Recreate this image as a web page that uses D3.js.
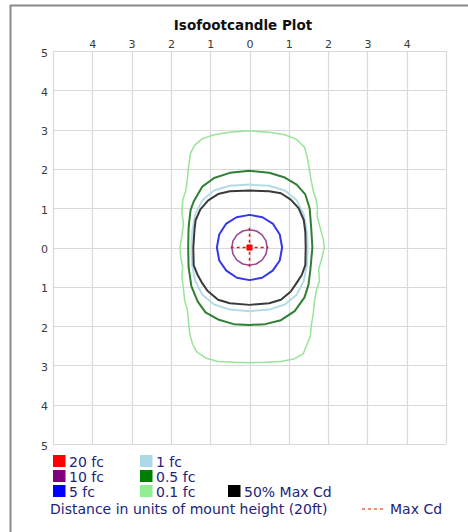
<!DOCTYPE html>
<html><head><meta charset="utf-8">
<script src="https://cdn.jsdelivr.net/npm/d3@7"></script>
<style>
html,body{margin:0;padding:0;background:#fff;}
svg{display:block;}
</style></head>
<body>
<svg id="chart" width="468" height="532"></svg>
<script>
// ---------- data ----------
const xTicks = [-4,-3,-2,-1,0,1,2,3,4];
const xTickLabels = ["4","3","2","1","0","1","2","3","4"];
const yTicks = [5,4,3,2,1,0,-1,-2,-3,-4,-5];
const yTickLabels = ["5","4","3","2","1","0","1","2","3","4","5"];

const series = ["0.1 fc","0.5 fc","1 fc","50% Max Cd","5 fc","10 fc","20 fc"];

const fc01 = [[0,2.97],[0.5,2.93],[0.9,2.87],[1.2,2.75],[1.4,2.55],[1.47,2.3],[1.52,2.0],[1.56,1.75],[1.62,1.45],[1.7,1.2],[1.73,1.0],[1.72,0.8],[1.8,0.5],[1.88,0.2],[1.9,0],[1.85,-0.25],[1.76,-0.55],[1.78,-0.85],[1.7,-1.1],[1.65,-1.4],[1.62,-1.7],[1.57,-2.0],[1.55,-2.25],[1.45,-2.5],[1.37,-2.7],[1.15,-2.83],[0.8,-2.9],[0.4,-2.92],[0,-2.93],[-0.4,-2.92],[-0.8,-2.9],[-1.1,-2.82],[-1.35,-2.65],[-1.45,-2.45],[-1.52,-2.2],[-1.55,-1.9],[-1.58,-1.6],[-1.65,-1.35],[-1.68,-1.05],[-1.72,-0.75],[-1.7,-0.5],[-1.75,-0.25],[-1.77,0],[-1.72,0.3],[-1.68,0.6],[-1.72,0.9],[-1.7,1.2],[-1.62,1.45],[-1.58,1.75],[-1.55,2.05],[-1.5,2.4],[-1.4,2.6],[-1.2,2.77],[-0.9,2.87],[-0.5,2.93]];
const fc05 = [[0,1.95],[0.5,1.9],[0.9,1.78],[1.2,1.6],[1.42,1.35],[1.53,1.0],[1.57,0.5],[1.6,0],[1.55,-0.55],[1.5,-0.95],[1.4,-1.27],[1.15,-1.62],[0.8,-1.85],[0.4,-1.95],[0,-1.97],[-0.4,-1.95],[-0.8,-1.83],[-1.12,-1.65],[-1.32,-1.37],[-1.48,-0.98],[-1.55,-0.5],[-1.56,0],[-1.55,0.5],[-1.5,0.95],[-1.42,1.17],[-1.2,1.55],[-0.9,1.77],[-0.5,1.9]];
const fc1 = [[0,1.6],[0.5,1.57],[0.9,1.45],[1.2,1.2],[1.38,0.85],[1.46,0.4],[1.48,0],[1.46,-0.45],[1.38,-0.85],[1.2,-1.2],[0.9,-1.45],[0.5,-1.58],[0,-1.62],[-0.5,-1.58],[-0.9,-1.45],[-1.2,-1.2],[-1.38,-0.85],[-1.46,-0.45],[-1.48,0],[-1.46,0.4],[-1.38,0.85],[-1.2,1.2],[-0.9,1.45],[-0.5,1.57]];
const maxCd50 = [[0,1.45],[0.5,1.43],[0.8,1.38],[1.05,1.22],[1.25,1.0],[1.38,0.7],[1.42,0.4],[1.43,0],[1.42,-0.45],[1.33,-0.7],[1.2,-0.9],[1.05,-1.12],[0.8,-1.33],[0.5,-1.42],[0,-1.46],[-0.5,-1.42],[-0.8,-1.33],[-1.07,-1.1],[-1.22,-0.88],[-1.33,-0.68],[-1.42,-0.45],[-1.43,0],[-1.4,0.45],[-1.37,0.7],[-1.25,0.97],[-1.05,1.2],[-0.8,1.36],[-0.5,1.43]];
const fc5 = [[0,0.83],[0.33,0.77],[0.6,0.6],[0.77,0.33],[0.83,0],[0.77,-0.33],[0.59,-0.59],[0.32,-0.77],[0,-0.83],[-0.32,-0.77],[-0.59,-0.59],[-0.77,-0.33],[-0.83,0],[-0.77,0.33],[-0.6,0.6],[-0.33,0.77]];
const fc10 = [[0,0.45],[0.18,0.42],[0.32,0.32],[0.42,0.17],[0.45,0],[0.42,-0.17],[0.32,-0.32],[0.17,-0.42],[0,-0.45],[-0.17,-0.42],[-0.32,-0.32],[-0.42,-0.17],[-0.45,0],[-0.42,0.17],[-0.32,0.32],[-0.17,0.42]];
const fc20 = [[-0.065,0.065],[0.065,0.065],[0.065,-0.065],[-0.065,-0.065]];
const contours = [fc01, fc05, fc1, maxCd50, fc5, fc10, fc20];

const maxCdH = [[-0.48,0],[0.48,0]];
const maxCdV = [[0,0.5],[0,-0.5]];

const legendLabels = ["20 fc","10 fc","5 fc","1 fc","0.5 fc","0.1 fc","50% Max Cd"];
const titleText = "Isofootcandle Plot";
const footText = "Distance in units of mount height (20ft)";
const maxCdLabel = "Max Cd";

// ---------- styles ----------
const strokeColors = ["#98e498","#2f7f34","#b4dce8","#3a3a3a","#3636ee","#9a4a94","#ff0000"];
const strokeWidths = [1.5,2,2,2,2,1.6,1];
const legendColors = ["#ff0000","#800080","#0000ff","#add8e6","#008000","#90ee90","#000000"];
const textBlue = "#23237a";

const svg = d3.select("#chart");
const x = d3.scaleLinear().domain([-5,5]).range([53,446]);
const y = d3.scaleLinear().domain([-5,5]).range([444,51]);

// frame
svg.append("line").attr("x1",10).attr("x2",468).attr("y1",5.5).attr("y2",5.5).attr("stroke","#8a8a8a").attr("stroke-width",2);
svg.append("line").attr("x1",10.5).attr("x2",10.5).attr("y1",5).attr("y2",532).attr("stroke","#8a8a8a").attr("stroke-width",2);

// title
svg.append("text").attr("x",243).attr("y",30).attr("text-anchor","middle")
  .attr("font-family","DejaVu Sans").attr("font-weight","bold").attr("font-size",13.5)
  .attr("fill","#111").text(titleText);

// grid
const grid = svg.append("g");
const gx = d3.range(-5,6);
grid.selectAll(".vx").data(gx).enter().append("line")
  .attr("x1",d=>Math.round(x(d))+0.5).attr("x2",d=>Math.round(x(d))+0.5)
  .attr("y1",y(5)).attr("y2",y(-5)).attr("stroke","#d9d9d9").attr("stroke-width",1.2);
grid.selectAll(".hy").data(gx).enter().append("line")
  .attr("y1",d=>Math.round(y(d))+0.5).attr("y2",d=>Math.round(y(d))+0.5)
  .attr("x1",x(-5)).attr("x2",x(5)).attr("stroke","#d9d9d9").attr("stroke-width",1.2);

// axes (labels only)
const topAxis = d3.axisTop(x).tickValues(xTicks).tickSize(0).tickPadding(0)
  .tickFormat((d,i)=>xTickLabels[i]);
const gTop = svg.append("g").attr("transform","translate(0,50)").call(topAxis);
gTop.select(".domain").remove();
gTop.selectAll("text").attr("font-family","DejaVu Sans").attr("font-size",11).attr("fill","#3a3a3a").attr("dy","-0.2em");

const leftAxis = d3.axisLeft(y).tickValues(yTicks).tickSize(0).tickPadding(0)
  .tickFormat((d,i)=>yTickLabels[i]);
const gLeft = svg.append("g").attr("transform","translate(48,1.5)").call(leftAxis);
gLeft.select(".domain").remove();
gLeft.selectAll("text").attr("font-family","DejaVu Sans").attr("font-size",11).attr("fill","#3a3a3a");

// contours
const line = d3.line().x(d=>x(d[0])).y(d=>y(d[1])).curve(d3.curveLinearClosed);
const cg = svg.append("g");
contours.forEach((c,i)=>{
  cg.append("path").attr("d",line(c))
    .attr("fill", series[i]==="20 fc" ? strokeColors[i] : "none")
    .attr("stroke",strokeColors[i]).attr("stroke-width",strokeWidths[i])
    .attr("stroke-linejoin","round");
});

// Max Cd crosshair
const l2 = d3.line().x(d=>x(d[0])).y(d=>y(d[1]));
[maxCdH,maxCdV].forEach(seg=>{
  cg.append("path").attr("d",l2(seg)).attr("stroke","#ee1111").attr("stroke-width",1.5)
    .attr("stroke-dasharray","3,3").attr("fill","none");
});

// legend
const lg = svg.append("g").attr("font-family","DejaVu Sans").attr("font-size",14).attr("fill",textBlue);
const colX = [53,140,228];
const rowY = [455,470,485];
const legendPos = [[0,0],[0,1],[0,2],[1,0],[1,1],[1,2],[2,2]];
legendLabels.forEach((lab,i)=>{
  const [c,r] = legendPos[i];
  lg.append("rect").attr("x",colX[c]).attr("y",rowY[r]).attr("width",12.5).attr("height",12).attr("fill",legendColors[i]);
  lg.append("text").attr("x",colX[c]+16).attr("y",rowY[r]+11.5).text(lab);
});
lg.append("text").attr("x",50).attr("y",514).text(footText);
lg.append("line").attr("x1",362).attr("x2",384).attr("y1",509).attr("y2",509)
  .attr("stroke","#e0704a").attr("stroke-width",1.3).attr("stroke-dasharray","3,3");
lg.append("text").attr("x",390).attr("y",514).text(maxCdLabel);
</script>
</body></html>
